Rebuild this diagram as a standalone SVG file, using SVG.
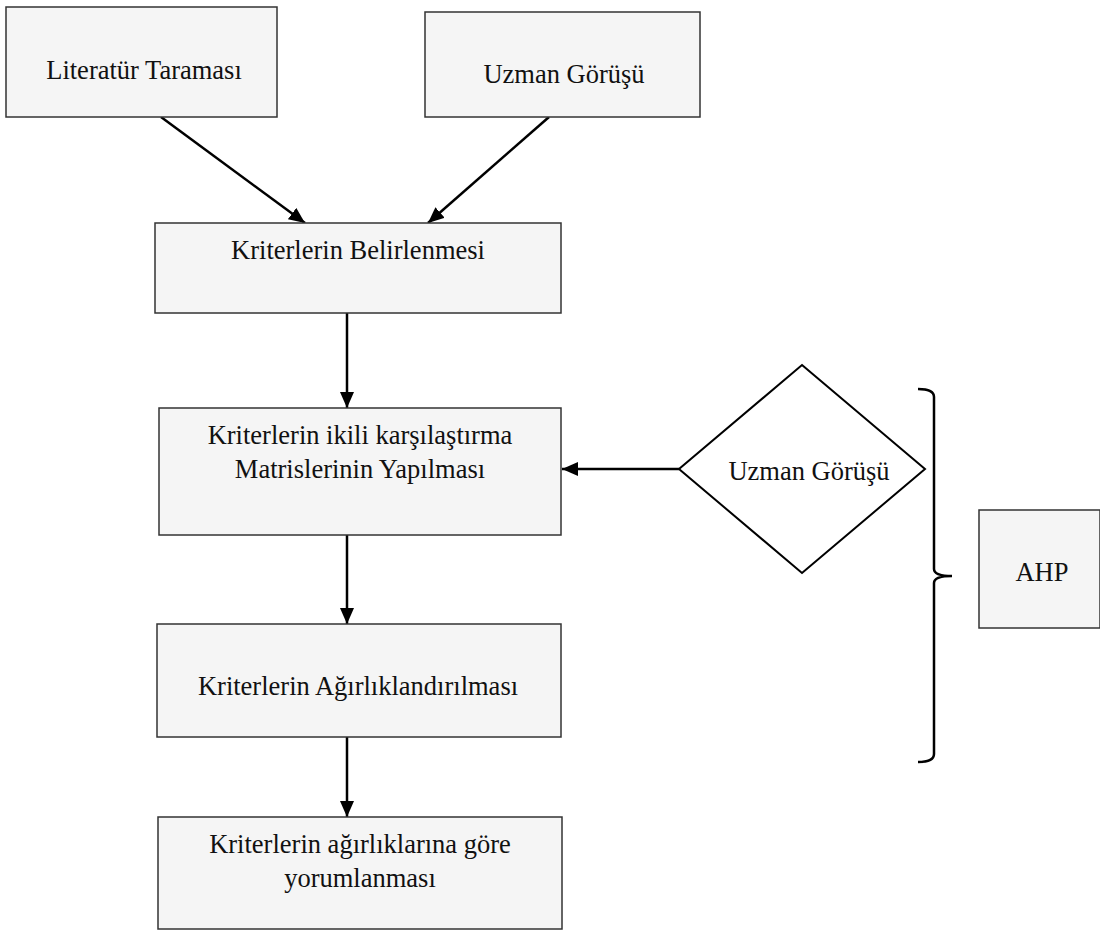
<svg xmlns="http://www.w3.org/2000/svg" width="1100" height="930" viewBox="0 0 1100 930">
<style>
.box{fill:#f5f5f5;stroke:#333;stroke-width:1.5}
.dia{fill:#fff;stroke:#000;stroke-width:2}
.t{font-family:"Liberation Serif","Times New Roman",serif;font-size:26.5px;fill:#111;text-anchor:middle}
.c{stroke:#000;stroke-width:2.5;fill:none}
</style>
<defs>
<marker id="ah" markerUnits="userSpaceOnUse" markerWidth="16" markerHeight="14" viewBox="0 0 16 14" refX="16" refY="7" orient="auto">
<path d="M0,0 L16,7 L0,14 Z" fill="#000"/>
</marker>
</defs>
<rect width="1100" height="930" fill="#fff"/>
<g id="connectors">
<line class="c" x1="161" y1="117" x2="305" y2="223" marker-end="url(#ah)"/>
<line class="c" x1="549" y1="117" x2="428" y2="223" marker-end="url(#ah)"/>
<line class="c" x1="347" y1="313" x2="347" y2="408" marker-end="url(#ah)"/>
<line class="c" x1="347" y1="535" x2="347" y2="624" marker-end="url(#ah)"/>
<line class="c" x1="347" y1="737" x2="347" y2="817" marker-end="url(#ah)"/>
<line class="c" x1="679" y1="469" x2="562" y2="469" marker-end="url(#ah)"/>
</g>
<g id="literatur">
<rect class="box" x="6" y="7" width="271" height="110"/>
<text class="t" x="144" y="79">Literatür Taraması</text>
</g>
<g id="uzman1">
<rect class="box" x="425" y="12" width="275" height="105"/>
<text class="t" x="564" y="83">Uzman Görüşü</text>
</g>
<g id="belirlenmesi">
<rect class="box" x="155" y="223" width="406" height="90"/>
<text class="t" x="358" y="259">Kriterlerin Belirlenmesi</text>
</g>
<g id="ikili">
<rect class="box" x="159" y="408" width="402" height="127"/>
<text class="t" x="360" y="444">Kriterlerin ikili karşılaştırma</text>
<text class="t" x="360" y="478">Matrislerinin Yapılması</text>
</g>
<g id="uzman2">
<polygon class="dia" points="802,365 925,469 802,573 679,469"/>
<text class="t" x="809" y="480">Uzman Görüşü</text>
</g>
<g id="agirlik">
<rect class="box" x="157" y="624" width="404" height="113"/>
<text class="t" x="358" y="695">Kriterlerin Ağırlıklandırılması</text>
</g>
<g id="yorum">
<rect class="box" x="158" y="817" width="404" height="112"/>
<text class="t" x="360" y="853">Kriterlerin ağırlıklarına göre</text>
<text class="t" x="360" y="887">yorumlanması</text>
</g>
<g id="brace">
<path class="c" stroke-width="2" d="M918,389 Q934,389 934,397 L934,569 Q934,576 952,576 Q934,576 934,583 L934,754 Q934,762 918,762"/>
</g>
<g id="ahp">
<rect class="box" x="979" y="510" width="121" height="118"/>
<text class="t" x="1042" y="581">AHP</text>
</g>
</svg>
